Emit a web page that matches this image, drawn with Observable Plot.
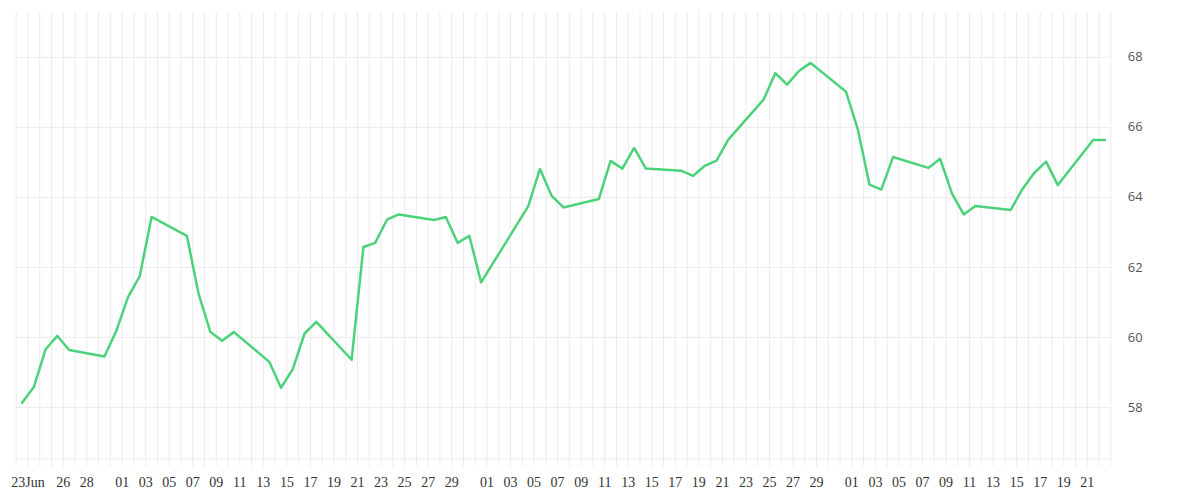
<!DOCTYPE html>
<html>
<head>
<meta charset="utf-8">
<script src="https://cdn.jsdelivr.net/npm/d3@7"></script>
<script src="https://cdn.jsdelivr.net/npm/@observablehq/plot@0.6"></script>
<style>
  html, body { margin: 0; padding: 0; background: #fff; }
  #chart svg { display: block; }
</style>
</head>
<body>
<div id="chart"></div>
<script>
// Trading days (2020) and closing values
const dates = [
  "2020-06-22","2020-06-23","2020-06-24","2020-06-25","2020-06-26",
  "2020-06-29","2020-06-30","2020-07-01","2020-07-02","2020-07-03",
  "2020-07-06","2020-07-07","2020-07-08","2020-07-09","2020-07-10",
  "2020-07-13","2020-07-14","2020-07-15","2020-07-16","2020-07-17",
  "2020-07-20","2020-07-21","2020-07-22","2020-07-23","2020-07-24",
  "2020-07-27","2020-07-28","2020-07-29","2020-07-30","2020-07-31",
  "2020-08-04","2020-08-05","2020-08-06","2020-08-07",
  "2020-08-10","2020-08-11","2020-08-12","2020-08-13","2020-08-14",
  "2020-08-17","2020-08-18","2020-08-19","2020-08-20","2020-08-21",
  "2020-08-24","2020-08-25","2020-08-26","2020-08-27","2020-08-28",
  "2020-08-31","2020-09-01","2020-09-02","2020-09-03","2020-09-04",
  "2020-09-07","2020-09-08","2020-09-09","2020-09-10","2020-09-11",
  "2020-09-14","2020-09-15","2020-09-16","2020-09-17","2020-09-18",
  "2020-09-21","2020-09-22"
];
const values = [
  58.13, 58.58, 59.66, 60.04, 59.64,
  59.45, 60.18, 61.15, 61.75, 63.44,
  62.90, 61.24, 60.15, 59.90, 60.15,
  59.30, 58.56, 59.09, 60.11, 60.44,
  59.36, 62.58, 62.70, 63.36, 63.51,
  63.35, 63.44, 62.70, 62.90, 61.57,
  63.74, 64.81, 64.04, 63.71,
  63.95, 65.04, 64.82, 65.41, 64.82,
  64.76, 64.61, 64.90, 65.05, 65.65,
  66.79, 67.55, 67.22, 67.61, 67.84,
  67.02, 65.95, 64.36, 64.22, 65.15,
  64.84, 65.10, 64.11, 63.51, 63.75,
  63.64, 64.24, 64.70, 65.02, 64.35,
  65.64, 65.64
];
// Labelled x ticks
const tickDates = [
  "2020-06-23","2020-06-26","2020-06-28",
  "2020-07-01","2020-07-03","2020-07-05","2020-07-07","2020-07-09","2020-07-11","2020-07-13","2020-07-15",
  "2020-07-17","2020-07-19","2020-07-21","2020-07-23","2020-07-25","2020-07-27","2020-07-29",
  "2020-08-01","2020-08-03","2020-08-05","2020-08-07","2020-08-09","2020-08-11","2020-08-13","2020-08-15",
  "2020-08-17","2020-08-19","2020-08-21","2020-08-23","2020-08-25","2020-08-27","2020-08-29",
  "2020-09-01","2020-09-03","2020-09-05","2020-09-07","2020-09-09","2020-09-11","2020-09-13","2020-09-15",
  "2020-09-17","2020-09-19","2020-09-21"
];
const yTicks = [58, 60, 62, 64, 66, 68];
const xDomain = ["2020-06-22", "2020-09-23"];
const yDomain = [56.53, 69.28];

const utc = s => new Date(s + "T00:00:00Z");
const data = dates.map((d, i) => ({date: new Date(utc(d).getTime() + 12 * 3600 * 1000), value: values[i]}));
const tickSet = new Set(tickDates.map(s => utc(s).getTime()));
const days = d3.utcDay.range(utc(xDomain[0]), d3.utcDay.offset(utc(xDomain[1]), 1));
const fmt = d => {
  const t = d.getTime();
  if (!tickSet.has(t)) return "";
  const day = String(d.getUTCDate()).padStart(2, "0");
  return t === utc(tickDates[0]).getTime() ? day + "Jun" : day;
};

const chart = Plot.plot({
  width: 1200,
  height: 500,
  marginLeft: 15.7,
  marginRight: 89.7,
  marginTop: 12,
  marginBottom: 41.7,
  style: {background: "#fff"},
  x: {type: "utc", domain: xDomain.map(utc), label: null},
  y: {domain: yDomain, label: null},
  marks: [
    Plot.gridX(days, {stroke: "#ebebeb", strokeOpacity: 1, strokeWidth: 1}),
    Plot.gridY(yTicks, {stroke: "#ebebeb", strokeOpacity: 1, strokeWidth: 1}),
    Plot.ruleY([yDomain[0]], {stroke: "#ebebeb", strokeWidth: 1}),
    Plot.axisX(days, {
      tickSize: 8, tickPadding: 10, stroke: "#ebebeb", strokeOpacity: 1,
      fill: "#333", tickFormat: fmt, label: null,
      fontFamily: "Liberation Serif", fontSize: 14
    }),
    Plot.axisY(yTicks, {
      anchor: "right", tickSize: 0, tickPadding: 17, textAnchor: "start", label: null,
      fill: "#555", fontFamily: "Open Sans", fontSize: 13, tickFormat: d => String(d)
    }),
    Plot.line(data, {x: "date", y: "value", stroke: "#4cd27b", strokeWidth: 2.5, curve: "linear"})
  ]
});
document.getElementById("chart").appendChild(chart);
</script>
</body>
</html>
